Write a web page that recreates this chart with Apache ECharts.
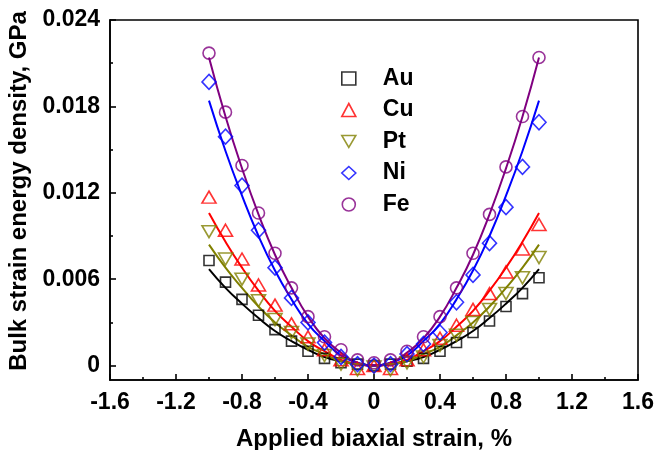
<!DOCTYPE html>
<html>
<head>
<meta charset="utf-8">
<script src="https://cdn.jsdelivr.net/npm/echarts@6/dist/echarts.min.js"></script>
<style>
html,body{margin:0;padding:0;background:#fff;}
#chart{width:655px;height:450px;}
</style>
</head>
<body>
<div id="chart"></div>
<script>
// strain values (%)
var strain = [-1.0,-0.9,-0.8,-0.7,-0.6,-0.5,-0.4,-0.3,-0.2,-0.1,0.0,0.1,0.2,0.3,0.4,0.5,0.6,0.7,0.8,0.9,1.0];

// measured bulk strain energy density (GPa)
var au = [0.0073,0.0058,0.0046,0.0035,0.0025,0.0017,0.0010,0.0005,0.0002,0.0001,0.0000,0.0001,0.0003,0.0005,0.0010,0.0016,0.0023,0.0031,0.0041,0.0050,0.0061];
var cu = [0.0117,0.0094,0.0074,0.0056,0.0042,0.0029,0.0020,0.0011,0.0004,-0.0002,0.0000,-0.0002,0.0004,0.0011,0.0019,0.0028,0.0039,0.0050,0.0065,0.0081,0.0098];
var pt = [0.0093,0.0074,0.0060,0.0045,0.0032,0.0023,0.0015,0.0007,0.0001,-0.0003,-0.0001,-0.0003,0.0002,0.0006,0.0014,0.0021,0.0030,0.0039,0.0050,0.0061,0.0075];
var ni = [0.0197,0.0159,0.0125,0.0094,0.0068,0.0047,0.0030,0.0016,0.0006,0.0001,0.0000,0.0001,0.0008,0.0015,0.0023,0.0044,0.0063,0.0085,0.0110,0.0138,0.0169];
var fe = [0.0217,0.0176,0.0139,0.0106,0.0078,0.0054,0.0034,0.0020,0.0011,0.0004,0.0002,0.0004,0.0010,0.0020,0.0034,0.0054,0.0078,0.0105,0.0138,0.0173,0.0214];

// fitted curves
var auFit = [0.0067,0.0054,0.0043,0.0033,0.0024,0.0017,0.0011,0.0006,0.0003,0.0001,0.0000,0.0001,0.0003,0.0006,0.0011,0.0017,0.0024,0.0033,0.0043,0.0054,0.0067];
var cuFit = [0.0106,0.0086,0.0068,0.0052,0.0038,0.0027,0.0017,0.0010,0.0004,0.0001,0.0000,0.0001,0.0004,0.0010,0.0017,0.0027,0.0038,0.0052,0.0068,0.0086,0.0106];
var ptFit = [0.0084,0.0068,0.0054,0.0041,0.0030,0.0021,0.0013,0.0008,0.0003,0.0001,0.0000,0.0001,0.0003,0.0008,0.0013,0.0021,0.0030,0.0041,0.0054,0.0068,0.0084];
var niFit = [0.0184,0.0149,0.0118,0.0090,0.0066,0.0046,0.0029,0.0017,0.0007,0.0002,0.0000,0.0002,0.0007,0.0017,0.0029,0.0046,0.0066,0.0090,0.0118,0.0149,0.0184];
var feFit = [0.0214,0.0173,0.0137,0.0105,0.0077,0.0054,0.0034,0.0019,0.0009,0.0002,0.0000,0.0002,0.0009,0.0019,0.0034,0.0054,0.0077,0.0105,0.0137,0.0173,0.0214];

var metals = ['Au','Cu','Pt','Ni','Fe'];
var yTicks = [0, 0.006, 0.012, 0.018, 0.024];
var yMinorTicks = [0.003, 0.009, 0.015, 0.021];

var colors = {Au:'#000000', Cu:'#ff0000', Pt:'#808000', Ni:'#0000ff', Fe:'#800080'};
var symbols = {Au:'rect', Cu:'triangle', Pt:'path://M0,0 L14,0 L7,12 Z', Ni:'diamond', Fe:'circle'};
var sizes = {Au:[10,10], Cu:[14,12], Pt:[14,12], Ni:[14,15], Fe:[12,12]};
var meas = {Au:au, Cu:cu, Pt:pt, Ni:ni, Fe:fe};
var fits = {Au:auFit, Cu:cuFit, Pt:ptFit, Ni:niFit, Fe:feFit};

function pairs(arr){ return strain.map(function(x,i){ return [x, arr[i]]; }); }

var series = [];
metals.forEach(function(m){
  series.push({
    name: m, type: 'line', data: pairs(fits[m]), smooth: true, showSymbol: false,
    lineStyle: {color: colors[m], width: 2}, itemStyle:{color: colors[m]}, z: 2, silent: true
  });
});
metals.forEach(function(m){
  series.push({
    name: m + ' data', type: 'scatter', data: pairs(meas[m]),
    symbol: symbols[m], symbolSize: sizes[m],
    itemStyle: {color: 'rgba(0,0,0,0)', borderColor: colors[m], borderWidth: 1.6},
    z: 3
  });
});

var font = 'Liberation Sans, Arial, sans-serif';
var chart = echarts.init(document.getElementById('chart'), null, {renderer:'canvas'});
chart.setOption({
  animation: false,
  backgroundColor: '#fff',
  grid: {left: 110, right: 17, top: 20, bottom: 70, outerBoundsMode: 'none', containLabel: false,
    show: true, borderColor: '#000', borderWidth: 1.6, backgroundColor: 'transparent'},
  legend: {
    orient: 'vertical', left: 336, top: 62, itemGap: 8.5,
    itemWidth: 14, itemHeight: 13,
    textStyle: {fontFamily: font, fontWeight: 'bold', fontSize: 23, color: '#000', padding: [0,0,0,22]},
    data: metals.map(function(m){
      return {name: m + ' data', icon: symbols[m],
        itemStyle: {color: 'rgba(0,0,0,0)', borderColor: colors[m], borderWidth: 1.6}};
    }),
    formatter: function(n){ return n.replace(' data',''); }
  },
  xAxis: {
    type: 'value', min: -1.6, max: 1.6, interval: 0.4,
    name: 'Applied biaxial strain, %', nameLocation: 'middle', nameGap: 47,
    nameTextStyle: {fontFamily: font, fontWeight: 'bold', fontSize: 24, color: '#000'},
    axisLine: {onZero: false, lineStyle: {color: '#000', width: 1.6}},
    axisTick: {show: true, inside: true, length: 6, lineStyle: {color: '#000', width: 1.6}},
    minorTick: {show: true, splitNumber: 2, length: 3, lineStyle: {color: '#000', width: 1.6}},
    splitLine: {show: false},
    axisLabel: {fontFamily: font, fontWeight: 'bold', fontSize: 23, color: '#000', margin: 11,
      formatter: function(v){ return Math.abs(v) < 1e-9 ? '0' : v.toFixed(1); }}
  },
  yAxis: [{
    type: 'value', min: -0.001, max: 0.024,
    name: 'Bulk strain energy density, GPa', nameLocation: 'middle', nameGap: 65,
    nameTextStyle: {fontFamily: font, fontWeight: 'bold', fontSize: 24, color: '#000', padding: [0,0,0,18]},
    axisLine: {onZero: false, lineStyle: {color: '#000', width: 1.6}},
    axisTick: {show: true, inside: true, length: 6, customValues: yTicks, lineStyle: {color: '#000', width: 1.6}},
    splitLine: {show: false},
    axisLabel: {fontFamily: font, fontWeight: 'bold', fontSize: 23, color: '#000', margin: 10,
      customValues: yTicks,
      formatter: function(v){ return Math.abs(v) < 1e-12 ? '0' : v.toFixed(3); }}
  },{
    type: 'value', min: -0.001, max: 0.024, position: 'left',
    axisLine: {show: false, onZero: false},
    axisTick: {show: true, inside: true, length: 3, customValues: yMinorTicks, lineStyle: {color: '#000', width: 1.6}},
    axisLabel: {show: false},
    splitLine: {show: false}
  }],
  series: series
});
</script>
</body>
</html>
